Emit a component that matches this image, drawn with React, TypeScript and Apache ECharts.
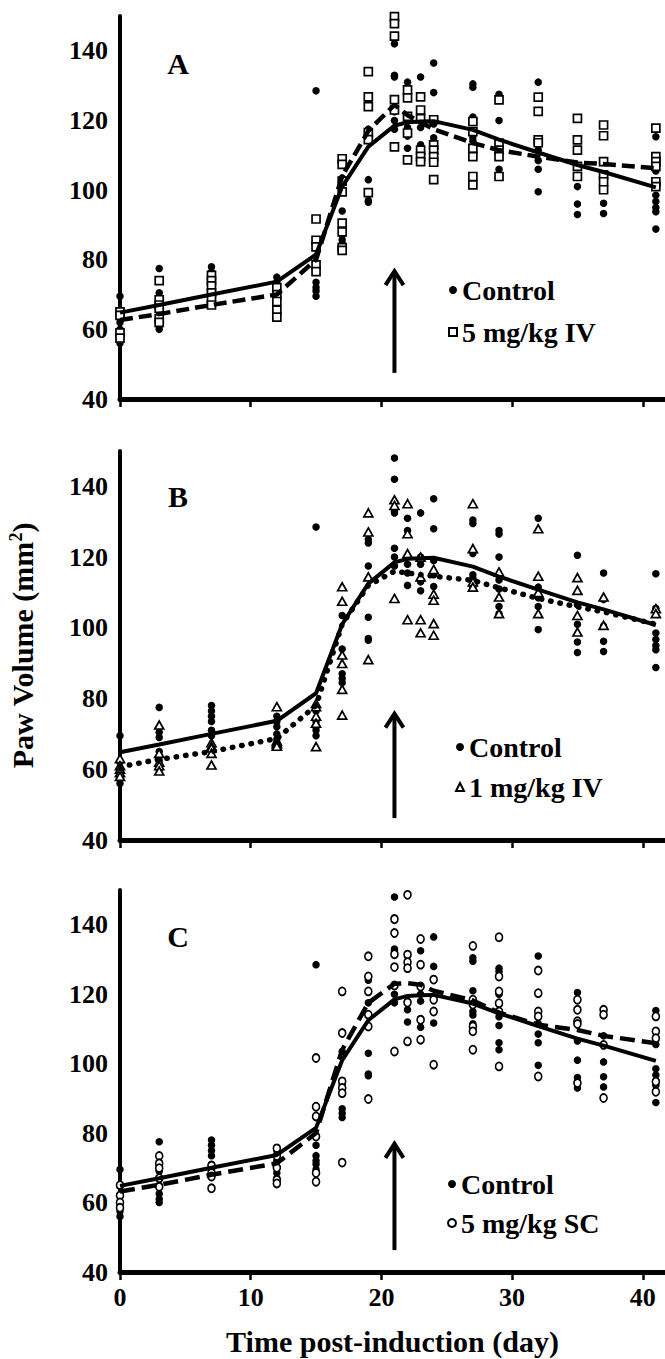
import React, { useEffect, useRef } from 'react';
import * as echarts from 'echarts';

// ---------- data ----------
const days = [0, 3, 7, 12, 15, 17, 19, 21, 22, 23, 24, 27, 29, 32, 35, 37, 41];
const xTicks = [0, 10, 20, 30, 40];
const yTicks = [40, 60, 80, 100, 120, 140];

const controlMean = [64.8, 67, 70, 73.7, 81.5, 101, 112.5, 118.5, 119.5, 119.7, 119.8, 117.3, 114.5, 110.8, 107.2, 105.2, 100.8];
const iv5Mean = [62.7, 64.4, 67, 70, 80, 104, 117, 124.5, 121.5, 119.5, 117.5, 113.5, 111.5, 109.6, 107.9, 107.5, 106.3];
const iv1Mean = [60.7, 62.8, 65, 68.7, 78, 101, 112, 116, 115.5, 115, 114.6, 113.4, 111.3, 108.3, 105.9, 104.5, 101];
const sc5Mean = [63.2, 65.1, 68, 71.3, 80, 104, 117.5, 123, 123.2, 122.7, 121, 118.2, 114.7, 111.2, 109.7, 108, 105.9];

const controlPts = [
  [69.5, 62, 60, 58.5, 57.5, 56],
  [77.5, 70.5, 69, 65, 62.5, 61, 60],
  [78, 76.5, 75, 73.5, 71, 69.5],
  [75, 73.5, 72, 70, 68.5, 67],
  [128.5, 76.5, 73.5, 72, 71, 69.5],
  [103.5, 94, 87, 85.7, 84.5],
  [125, 124, 117.5, 103, 97, 96.5],
  [148, 142, 133, 132.5, 122.5, 120, 117.5],
  [131, 127.5, 118, 115.5, 112],
  [132.5, 120, 118, 113, 110.5],
  [136.5, 128, 119, 115, 111.7],
  [130.5, 129.5, 121, 115, 114, 111.5],
  [127.5, 126.5, 120, 113.5, 111, 106, 104],
  [131, 111.5, 108.5, 106, 99.5],
  [120.5, 106.5, 101, 96, 93],
  [115.5, 108, 100.5, 96.2, 93.3],
  [115.3, 105.5, 98.5, 96.7, 95, 93.8, 88.8],
];

const iv5Pts = [
  [65, 64, 59, 57.5],
  [74, 68.5, 67, 66, 63, 62],
  [75.5, 74, 72.5, 70.5, 69, 67],
  [72, 70, 68, 65.5, 63.5],
  [91.7, 85.6, 83.7, 78.5, 76.6],
  [109, 107.4, 102.6, 99.5, 90.5, 88, 83.5, 82.7],
  [134, 126.8, 124, 116.5, 114.5, 99.3],
  [149.8, 147.8, 144.2, 126, 123, 112.4],
  [128.8, 126.5, 121.2, 116.4, 108.7],
  [126.8, 123, 120.5, 111.5, 109.7, 108.2],
  [120.2, 113, 111.5, 109.6, 108, 103],
  [119.7, 116.8, 112, 109.6, 103.9, 101.5],
  [125.9, 113.5, 111.5, 109.6, 103.9],
  [126.7, 122.6, 114.4, 113.6],
  [120.6, 114.4, 111.5, 106.8, 103.9],
  [118.7, 115.6, 108.2, 104.4, 102.4, 100.1],
  [117.8, 109.6, 108.2, 106.8, 102.4, 101],
];

const iv1Pts = [
  [63, 61, 60, 59, 58],
  [72.5, 64.5, 62, 61, 59.5],
  [67.5, 66.5, 66, 64.5, 61.2],
  [77.7, 68, 67.5, 67, 66.5],
  [78.6, 77.7, 75, 73, 66.4],
  [111.6, 107.5, 92.3, 89.9, 82.6, 75.3],
  [132.5, 127.1, 114.4, 91],
  [136.2, 134.6, 108.3],
  [135.1, 126.6, 121, 102.3],
  [120, 114.4, 102.3, 98.6],
  [116.5, 109.5, 107.8, 101.2, 97.9],
  [135.1, 122.4, 113, 111.5],
  [115.8, 108.7, 104],
  [128, 114.6, 110, 104],
  [114.2, 110.6, 103.5, 98.8],
  [108.7, 100.7],
  [105.4, 104],
];

const sc5Pts = [
  [65, 62, 60, 58.5],
  [73.4, 71.3, 69.9, 67, 64.5],
  [70.6, 68.5, 67.5, 64.1],
  [75.6, 73.4, 70, 66.5, 65.5],
  [101.6, 87.6, 84.8, 79, 68.5, 66],
  [120.8, 108.8, 94.9, 93, 91.5, 71.5],
  [130.9, 125.1, 120.8, 114.1, 110.7, 89.8],
  [141.6, 137.6, 131.5, 127.8, 122.5, 103.5],
  [148.6, 131.4, 129.2, 127.5, 117.6, 106.4],
  [135.9, 128.5, 122.2, 112.6, 106.9],
  [124.2, 118.4, 115, 99.7],
  [133.9, 118.4, 117, 110.7, 109.3, 104],
  [136.4, 125.1, 120.8, 117.4, 115, 99.2],
  [126.8, 120.3, 115, 113.6, 96.3],
  [118.4, 115.5, 112.2, 111.4, 94.4],
  [115.5, 114.1, 105.4, 90.1],
  [113.6, 109.3, 107.3, 94.8, 91.9],
];

const panelLetters = ['A', 'B', 'C'];
const treatmentNames = ['5 mg/kg IV', '1 mg/kg IV', '5 mg/kg SC'];
const arrowDay = 21;
const arrowFrom = [47.5, 46.2, 46.3];
const arrowTo = [77, 76, 77.2];

// ---------- layout / style ----------
const FONT = "'Liberation Serif', 'Times New Roman', serif";
const layout = [
  { top: 16, height: 383, legendLeft: 448, legendTop: 276, legendGap: 14, letterY: 63 },
  { top: 451, height: 389, legendLeft: 455, legendTop: 733, legendGap: 12, letterY: 496 },
  { top: 890, height: 382, legendLeft: 447, legendTop: 1170, legendGap: 11, letterY: 936 },
];
const treatmentStyles = [
  { symbol: 'rect', size: [8, 8], line: { type: [13, 6], width: 4.5 } },
  { symbol: 'triangle', size: [9, 8], line: { type: [0.5, 9], width: 5.5, cap: 'round' } },
  { symbol: 'circle', size: [7, 8], line: { type: [15, 7], width: 4.5 } },
];
const treatmentPts = [iv5Pts, iv1Pts, sc5Pts];
const treatmentMeans = [iv5Mean, iv1Mean, sc5Mean];

const toPts = (pts: number[][]) => days.flatMap((d, i) => pts[i].map((v) => [d, v]));
const toLine = (m: number[]) => days.map((d, i) => [d, m[i]]);

const arrowRender = (params: any, api: any) => {
  const x = api.value(0);
  const p0 = api.coord([x, api.value(1)]);
  const p1 = api.coord([x, api.value(2)]);
  return {
    type: 'group',
    children: [
      { type: 'line', shape: { x1: p0[0], y1: p0[1], x2: p1[0], y2: p1[1] + 2 }, style: { stroke: '#000', lineWidth: 4 } },
      {
        type: 'polyline',
        shape: { points: [[p1[0] - 9, p1[1] + 15], [p1[0], p1[1] + 1], [p1[0] + 9, p1[1] + 15]] },
        style: { stroke: '#000', lineWidth: 4, fill: 'none' },
      },
    ],
  };
};

function buildOption() {
  const grid = layout.map((l) => ({ left: 120, width: 545, top: l.top, height: l.height, outerBoundsMode: 'none', containLabel: false }));
  const xAxis = layout.map((l, i) => ({
    type: 'value', gridIndex: i, min: 0, max: 41.7,
    axisLine: { show: true, onZero: false, lineStyle: { color: '#000', width: 5 } },
    axisTick: { show: true, length: 8, customValues: xTicks, lineStyle: { color: '#000', width: 2.5 } },
    axisLabel: { show: i === 2, customValues: xTicks, margin: 12, color: '#000', fontFamily: FONT, fontWeight: 'bold', fontSize: 26 },
    splitLine: { show: false },
    name: i === 2 ? 'Time post-induction (day)' : '',
    nameLocation: 'middle', nameGap: 54, nameMoveOverlap: false,
    nameTextStyle: { color: '#000', fontFamily: FONT, fontWeight: 'bold', fontSize: 30 },
  }));
  const yAxis = layout.map((l, i) => ({
    type: 'value', gridIndex: i, min: 40, max: 150,
    axisLine: { show: true, onZero: false, lineStyle: { color: '#000', width: 4 } },
    axisTick: { show: false },
    axisLabel: { customValues: yTicks, margin: 12, color: '#000', fontFamily: FONT, fontWeight: 'bold', fontSize: 26 },
    splitLine: { show: false },
    name: i === 1 ? 'Paw Volume (mm{sup|2})' : '',
    nameLocation: 'middle', nameGap: 83, nameRotate: 90, nameMoveOverlap: false,
    nameTextStyle: {
      color: '#000', fontFamily: FONT, fontWeight: 'bold', fontSize: 30,
      rich: { sup: { fontSize: 18, fontFamily: FONT, fontWeight: 'bold', color: '#000', verticalAlign: 'top', padding: [0, 0, 10, 0] } },
    },
  }));
  const legend = layout.map((l, i) => ({
    orient: 'vertical', left: l.legendLeft, top: l.legendTop, padding: 0,
    itemWidth: 8, itemHeight: 8, itemGap: l.legendGap, selectedMode: false,
    data: ['Control', treatmentNames[i]],
    textStyle: { color: '#000', fontFamily: FONT, fontWeight: 'bold', fontSize: 28, lineHeight: 28 },
  }));
  const series: any[] = [];
  layout.forEach((l, i) => {
    const ts = treatmentStyles[i];
    series.push({
      type: 'scatter', name: 'Control', xAxisIndex: i, yAxisIndex: i, data: toPts(controlPts),
      symbol: 'circle', symbolSize: 7.5, itemStyle: { color: '#000', opacity: 1 }, z: 2, silent: true,
    });
    series.push({
      type: 'scatter', name: treatmentNames[i], xAxisIndex: i, yAxisIndex: i, data: toPts(treatmentPts[i]),
      symbol: ts.symbol, symbolSize: ts.size,
      itemStyle: { color: '#fff', borderColor: '#000', borderWidth: 1.7, opacity: 1 }, z: 3, silent: true,
    });
    series.push({
      type: 'line', name: 'Control mean', xAxisIndex: i, yAxisIndex: i, data: toLine(controlMean),
      symbol: 'none', lineStyle: { color: '#000', width: 4 }, z: 4, silent: true,
    });
    series.push({
      type: 'line', name: treatmentNames[i] + ' mean', xAxisIndex: i, yAxisIndex: i, data: toLine(treatmentMeans[i]),
      symbol: 'none', lineStyle: { color: '#000', ...ts.line }, z: 4, silent: true,
    });
    series.push({
      type: 'custom', name: 'arrow', xAxisIndex: i, yAxisIndex: i,
      data: [[arrowDay, arrowFrom[i], arrowTo[i]]], encode: { x: 0, y: [1, 2] },
      renderItem: arrowRender, z: 5, silent: true,
    });
  });
  const graphic = layout.map((l, i) => ({
    type: 'text', x: 178, y: l.letterY,
    style: { text: panelLetters[i], fill: '#000', font: `bold 30px ${FONT}`, align: 'center', verticalAlign: 'middle' },
  }));
  return { animation: false, backgroundColor: '#fff', grid, xAxis, yAxis, legend, series, graphic };
}

export default function App() {
  const ref = useRef<HTMLDivElement>(null);
  useEffect(() => {
    if (!ref.current) return;
    const chart = echarts.init(ref.current, null, { renderer: 'svg' });
    chart.setOption(buildOption() as any);
    return () => chart.dispose();
  }, []);
  return <div ref={ref} style={{ position: 'absolute', left: 0, top: 0, width: 665, height: 1359, background: '#fff' }} />;
}
